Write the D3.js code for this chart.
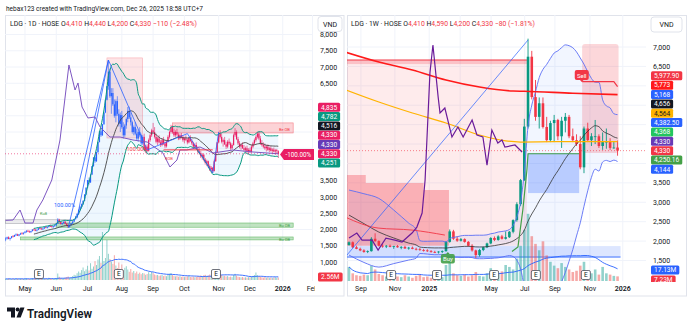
<!DOCTYPE html>
<html><head><meta charset="utf-8">
<script src="https://cdn.jsdelivr.net/npm/d3@7"></script>
<style>
html,body{margin:0;padding:0;background:#fff;}
svg{display:block;font-family:Roboto,"Noto Sans",sans-serif;}
</style></head><body>
<svg id="c" width="690" height="328"></svg>
<script>
// ---------------- DATA ----------------
const headerText = "hebax123 created with TradingView.com, Dec 26, 2025 18:58 UTC+7";

// Left pane: LDG daily bars [open, high, low, close]
const leftOHLC = [
[1700,1760,1640,1720],[1720,1780,1690,1760],[1760,1790,1700,1710],[1710,1750,1660,1740],[1740,1800,1720,1790],[1790,1830,1760,1780],[1780,1840,1770,1830],[1830,1880,1800,1850],[1850,1870,1800,1810],[1810,1860,1790,1850],[1850,1900,1830,1880],[1880,1920,1850,1870],[1870,1910,1840,1900],
[1900,1950,1880,1930],[1930,1980,1900,1960],[1960,1990,1920,1940],[1940,1970,1900,1920],[1920,1960,1890,1950],[1950,2010,1940,2000],[2000,2040,1970,1990],[1990,2020,1950,1970],[1970,2000,1940,1990],[1990,2050,1980,2040],[2040,2080,2010,2030],[2030,2060,1990,2010],[2010,2040,1980,2030],[2030,2080,2020,2070],[2070,2100,2040,2060],[2060,2090,2030,2080],[2080,2120,2060,2110],[2110,2150,2080,2100],[2100,2130,2060,2080],[2080,2110,2050,2100],[2100,2140,2080,2130],
[2130,2200,2110,2180],[2180,2350,2170,2300],[2300,2330,2200,2230],[2230,2260,2150,2170],[2170,2210,2130,2200],[2200,2250,2180,2240],[2240,2260,2160,2180],[2180,2200,2100,2120],[2120,2160,2050,2080],[2080,2140,2060,2130],[2130,2200,2120,2190],[2190,2250,2170,2240],
[2240,2330,2230,2320],[2320,2420,2300,2400],[2400,2500,2380,2480],[2480,2620,2450,2600],[2600,2720,2560,2700],[2700,2800,2650,2780],[2780,2900,2760,2880],[2880,3080,2870,3080],[3080,3290,3060,3290],
[3290,3520,3270,3520],[3520,3600,3380,3450],[3450,3690,3430,3690],[3690,3950,3680,3950],[3950,4220,3930,4220],[4220,4300,4050,4100],[4100,4380,4080,4380],[4380,4690,4360,4690],[4690,5020,4680,5020],[5020,5100,4850,4900],[4900,5240,4880,5240],[5240,5600,5220,5600],[5600,5990,5580,5990],[5990,6410,5970,6410],[6410,7215,6300,6860],[6860,6950,6050,6100],[6100,6350,5560,6200],[6200,6350,5800,5850],[5850,6000,5440,5500],[5500,6000,5300,5950],[5950,6100,5500,5560],[5560,5700,5170,5250],[5250,5600,5000,5520],
[5520,5650,5100,5150],[5150,5300,4800,4900],[4900,5250,4850,5200],[5200,5450,5100,5400],[5400,5770,5300,5650],[5650,5780,5400,5450],[5450,5600,5200,5300],[5300,5350,4950,5000],[5000,5200,4900,5150],[5150,5300,4900,4950],[4950,5100,4750,4800],[4800,5050,4700,5000],[5000,5150,4850,4900],[4900,4950,4600,4650],[4650,4900,4600,4850],[4850,4950,4400,4450],[4450,4600,4350,4550],[4550,4620,4380,4420],[4420,4800,4400,4750],[4750,4950,4700,4900],[4900,5100,4850,5050],
[5050,5280,4950,5000],[5000,5150,4800,4850],[4850,4950,4650,4700],[4700,4850,4600,4800],[4800,4900,4650,4680],[4680,4750,4540,4600],[4600,4800,4560,4750],[4750,4850,4600,4650],[4650,4700,4500,4560],[4560,4750,4520,4700],[4700,4900,4680,4850],[4850,5050,4800,5000],[5000,5220,4950,5150],[5150,5200,4950,5000],[5000,5100,4850,4900],[4900,5050,4850,5000],[5000,5100,4880,4920],[4920,4980,4750,4800],[4800,4950,4760,4900],[4900,4970,4800,4850],[4850,4900,4700,4750],
[4750,4850,4650,4800],[4800,4900,4720,4760],[4760,4800,4620,4680],[4680,4850,4650,4820],[4820,4900,4700,4720],[4720,4780,4600,4650],[4650,4700,4500,4550],[4550,4650,4480,4600],[4600,4680,4450,4480],[4480,4560,4350,4400],[4400,4500,4300,4350],[4350,4420,4200,4250],[4250,4350,4150,4300],[4300,4320,4100,4150],[4150,4200,4000,4050],[4050,4150,3950,4100],[4100,4120,3900,3950],[3950,4000,3800,3850],[3850,3950,3750,3900],[3900,3920,3740,3800],[3800,4150,3780,4100],[4100,4400,4080,4380],[4380,4690,4350,4680],
[4680,5010,4650,4950],[4950,5060,4800,4850],[4850,4950,4650,4700],[4700,4800,4550,4750],[4750,4850,4600,4620],[4620,4700,4480,4550],[4550,4750,4500,4700],[4700,4800,4600,4650],[4650,4700,4450,4500],[4500,4650,4460,4600],[4600,4950,4580,4900],[4900,5120,4850,5000],[5000,5050,4750,4780],[4780,4850,4600,4650],[4650,4720,4500,4550],[4550,4650,4450,4600],[4600,4680,4480,4500],[4500,4600,4400,4450],[4450,4550,4380,4500],[4500,4580,4350,4400],[4400,4500,4330,4450],
[4450,4520,4360,4380],[4380,4600,4360,4550],[4550,4700,4500,4650],[4650,4800,4600,4750],[4750,4900,4700,4850],[4850,5000,4800,4950],[4950,5020,4750,4800],[4800,4880,4600,4650],[4650,4750,4550,4600],[4600,4680,4500,4550],[4550,4650,4450,4500],[4500,4600,4400,4550],[4550,4620,4420,4450],[4450,4550,4380,4500],[4500,4560,4400,4420],[4420,4500,4350,4460],[4460,4520,4380,4400],[4400,4480,4300,4440],[4440,4480,4330,4440],[4410,4440,4200,4330]
];
// Left pane daily volume (millions)
const leftVolume = [
1.2,0.9,1.5,1.1,0.8,1.3,1.0,1.6,1.2,0.9,1.4,1.1,1.0,
1.3,1.8,1.0,0.9,1.2,2.0,1.4,1.1,0.8,1.6,1.9,1.2,1.0,1.5,1.3,1.1,2.2,1.7,1.2,1.0,1.4,
1.8,6.5,3.2,2.0,1.5,1.8,2.4,2.9,3.5,2.2,2.8,3.9,5.2,4.6,6.8,8.5,7.2,9.9,12.5,8.8,10.6,
14.2,9.5,16.8,11.2,13.5,18.9,15.0,20.5,24.0,17.2,48,19.0,22.0,40,26.2,21.0,18.5,16.2,24.8,14.5,12.0,17.5,11.0,
15.5,9.8,12.2,13.8,10.5,8.2,11.0,7.5,9.0,6.8,8.5,6.2,7.4,5.8,7.0,
6.5,5.2,6.0,7.8,6.1,8.2,6.9,5.5,4.8,5.0,4.2,4.6,5.1,3.9,4.4,3.8,5.6,6.2,7.0,4.9,
4.1,3.6,4.0,3.3,3.8,3.1,3.5,2.9,3.2,3.6,4.2,3.0,2.8,3.4,2.7,3.1,3.9,3.3,4.5,3.6,
4.8,5.2,3.9,4.6,5.5,4.1,5.8,7.2,6.5,8.0,9.5,6.8,5.0,3.8,4.2,3.5,3.9,2.9,3.4,2.8,
4.9,6.2,4.4,3.2,2.9,2.6,3.0,2.4,2.7,2.3,2.8,2.5,3.4,4.1,5.0,7.5,4.8,3.6,3.1,2.7,
2.4,2.9,2.2,2.6,2.1,2.4,2.0,2.3,2.8,2.2,2.56
];
const leftMonthIdx = [13,34,55,78,99,120,143,164,186,206];
const leftMonthLabels = ["May","Jun","Jul","Aug","Sep","Oct","Nov","Dec","2026","Feb"];
const leftPriceTicks = [1000,1500,2000,2500,3000,3500,4000,4500,5000,5500,6000,6500,7000,7500,8000];
// comparison line (purple) [bar index, price]
const leftPurple = [[0,2280],[5,2292],[9.7,2600],[13,2200],[18.4,2200],[21,2600],[25,2908],[31,3523],[36.5,4754],[42.5,7062],[46.6,6292],[48.6,6508],[51.3,5769],[55.3,5431],[60,5462],[63.4,5154],[70,4846],[76.8,4846],[85.5,4754],[95,4692],[105.6,4354],[110.3,3923],[115,4138],[117,4446],[121.7,4446],[130.5,4538],[139.2,4354],[152.6,4446],[166,4385],[183,4330]];
const leftZigzag = [[48,2350],[69,7215],[95,4450],[122,4950],[139,3740],[143,5000]];
const leftRay = [[42,2050],[69,7215]];
const leftEarnings = [22.4,76,141.2];
const leftAxisValues = [4835,4782,4516,4330,4330,4330,4251];
const leftAxisColors = ["#e91e63","#089981","#131722","#e91e63","#673ab7","#e91e63","#089981"];
const leftMainLabel = 5;

// Right pane: LDG weekly bars [open, high, low, close]
const rightOHLC = [
[1900,1990,1880,1970],[1970,1990,1820,1840],[1840,1880,1790,1800],[1800,1830,1740,1760],[1760,1790,1700,1720],[1720,1760,1690,1740],[1740,2100,1730,2060],[2060,2200,1980,2000],[2000,2020,1860,1880],[1880,1920,1830,1860],
[1860,1900,1820,1880],[1880,1910,1840,1850],[1850,1880,1800,1870],[1870,1900,1830,1840],[1840,1870,1790,1850],[1850,1880,1800,1810],[1810,1850,1780,1830],[1830,1860,1790,1800],[1800,1830,1760,1790],[1790,1820,1750,1770],
[1770,1800,1730,1760],[1760,1790,1720,1740],[1740,1770,1700,1720],[1720,1750,1690,1710],[1710,1740,1680,1730],[1730,1760,1690,1740],[1740,2000,1730,1980],[1980,2300,1960,2250],[2250,2290,2030,2060],[2060,2120,1980,2010],
[2010,2080,1990,2050],[2050,2070,1960,1980],[1980,2000,1860,1880],[1880,1920,1730,1760],[1760,1780,1560,1640],[1640,1800,1600,1770],[1770,1860,1740,1840],[1840,1960,1820,1940],[1940,2100,1920,2080],[2080,2120,2000,2030],
[2030,2150,2010,2120],[2120,2160,2040,2060],[2060,2250,2040,2100],[2100,2260,2080,2240],[2240,2560,2200,2540],[2540,3000,2500,2950],[2950,3600,2900,3570],[3570,5150,3550,4950],[4950,7215,4900,6750],[6750,6900,5650,5710],
[5710,6150,5100,5200],[5200,5700,4900,5550],[5550,5700,4900,4940],[4940,5200,4550,4600],[4600,5100,4550,5040],[5040,5250,4550,5120],[5120,5150,4600,4700],[4700,5200,4400,5100],[5100,5300,4800,5200],[5200,5250,4650,4700],
[4700,4900,4550,4600],[4600,4750,4450,4500],[4500,4700,3850,3900],[3900,4950,3750,4900],[4900,5050,4550,4600],[4600,4780,4450,4700],[4700,5120,4500,4700],[4700,4750,4400,4450],[4450,4800,4350,4550],[4550,4900,4380,4560],
[4560,4650,4350,4400],[4400,4560,4380,4410],[4410,4590,4200,4330]
];
const rightVolume = [22,12,9,8,10,9,24,18,11,9,7,6,8,7,6,9,7,5,8,10,6,7,5,9,11,6,25,30,12,9,8,10,7,9,14,8,7,12,20,9,12,15,25,22,18,35,55,80,105,70,58,48,62,40,30,24,20,28,22,18,14,16,24,30,16,12,18,10,22,12,10,8,7.23];
const rightMonthIdx = [3.2,12.3,21.5,38.1,47.1,55.2,64.6,73.4];
const rightMonthLabels = ["Sep","Nov","2025","May","Jul","Sep","Nov","2026"];
const rightGridOnlyIdx = [29.8];
const rightPriceTicks = [1500,2000,2500,3000,3500,4000,4500,5000,5500,6000,6500,7000];
// band values before the 20-week window is available
const rightBandEarlyIdx = [0,4,8,12,16,18];
const rightBandEarlyUpper = [3315,3220,3100,2800,2464,2300];
const rightBandEarlyBasis = [2670,2450,2232,2080,1949,1900];
const rightBandEarlyLower = [1640,1450,1330,1420,1511,1560];
const rightOrange = [[-1,5900],[8,5583],[17,5300],[26,5041],[35,4732],[42,4580],[46,4552],[55,4560],[65,4562],[72,4564]];
const rightRedMA = [[-1,6870],[8,6613],[17,6407],[26,6150],[35,5969],[44,5866],[47,5860],[60,5810],[72,5773]];
const rightThinRed = [[-1,2619],[7.8,2336],[16.9,2284],[25.7,2155]];
const rightPurple = [[0,2078],[2.1,2207],[3.5,2026],[6.2,2026],[7.8,1769],[9.9,2078],[12.3,2026],[14.2,1975],[16.9,2207],[18.2,2361],[19.6,2722],[20.4,3573],[21.7,6330],[22.5,7052],[23.9,5712],[24.4,5300],[25.7,5428],[27.6,4681],[29.2,4938],[30.6,4681],[33,5119],[34.3,4732],[35.9,4681],[37,3959],[38.3,4861],[39.9,4526],[41,4603],[41.8,4423],[44.5,4475],[46.4,4294]];
const rightDiagonal = [[-1,1589],[48,7180]];
const rightGreenStop = [[43.7,1730],[45.3,1850],[46.6,2800],[47.7,3830],[48,4250],[61.7,4250]];
const rightRedAreaIdx = [-1,4.5,4.5,20,20,26.8];
const rightRedAreaTop = [3700,3700,3495,3495,3315,3315];
const rightSellLine = [[62.5,6106],[71,6106],[72,5978]];
const rightEarnings = [11.3,23.6,38.9,50.1,63.5];
const rightAxisValues = [5977.90,5773,5168,4656,4564,4382.50,4368,4330,4330,4250.16,4144];
const rightAxisColors = ["#f23645","#ff1a1a","#2962ff","#131722","#ffb300","#2962ff","#22c55e","#673ab7","#f23645","#43a047","#2962ff"];
const rightMainLabel = 8;

// ---------------- DRAW ----------------
const RED="#f23645", GREEN="#089981", BLUE="#2962ff", PINK="#e91e63", TXT="#131722", GRID="#f0f3fa";
const svg = d3.select("#c");
const defs = svg.append("defs");
function clip(id,x,y,w,h){defs.append("clipPath").attr("id",id).append("rect").attr("x",x).attr("y",y).attr("width",w).attr("height",h);}
clip("clipL",5,15,308,266); clip("clipR",347,15,299,266);
clip("clipLT",5,281,310,15); clip("clipRAx",646,15,41,267);

svg.append("rect").attr("width",690).attr("height",328).attr("fill","#fff");
svg.append("text").attr("x",6).attr("y",10.5).attr("font-size",7).attr("fill",TXT)
  .attr("textLength",197).attr("lengthAdjust","spacingAndGlyphs").text(headerText);

const L = {x:d3.scaleLinear().domain([0,183]).range([5.6,5.6+183*1.49]),
           y:d3.scaleLinear().domain([1000,7500]).range([262,50.75]),
           v:d3.scaleLinear().domain([0,60]).range([280,220]), x0:5,x1:313};
const R = {x:d3.scaleLinear().domain([0,72]).range([349,349+72*3.73]),
           y:d3.scaleLinear().domain([1500,7000]).range([260.5,47]),
           v:d3.scaleLinear().domain([0,110]).range([281,210.6]), x0:347,x1:646};

svg.append("rect").attr("x",5.5).attr("y",15.5).attr("width",338.5).attr("height",280.5).attr("fill","none").attr("stroke","#e0e3eb");
svg.append("rect").attr("x",347.5).attr("y",15.5).attr("width",339).attr("height",280.5).attr("fill","none").attr("stroke","#e0e3eb");

function grid(P, ticks, monthIdx, extraIdx, clipId){
  const g = svg.append("g").attr("clip-path",`url(#${clipId})`);
  g.selectAll(null).data(ticks).enter().append("line")
    .attr("x1",P.x0).attr("x2",P.x1).attr("y1",d=>P.y(d)).attr("y2",d=>P.y(d)).attr("stroke",GRID);
  g.selectAll(null).data(monthIdx.concat(extraIdx)).enter().append("line")
    .attr("x1",d=>P.x(d)).attr("x2",d=>P.x(d)).attr("y1",15).attr("y2",281).attr("stroke",GRID);
}
grid(L,leftPriceTicks,leftMonthIdx,[],"clipL");
grid(R,rightPriceTicks,rightMonthIdx,rightGridOnlyIdx,"clipR");

function bollinger(closes,n,k){
  const out=[];
  for(let i=n-1;i<closes.length;i++){
    const w=closes.slice(i-n+1,i+1), m=d3.mean(w), sd=Math.sqrt(d3.mean(w,d=>(d-m)*(d-m)));
    out.push({i,m,u:m+k*sd,l:m-k*sd});
  }
  return out;
}
function sma(vals,n){ return vals.map((v,i)=>({i,m:d3.mean(vals.slice(Math.max(0,i-n+1),i+1))})); }

const gL = svg.append("g").attr("clip-path","url(#clipL)");
const gR = svg.append("g").attr("clip-path","url(#clipR)");

function zone(g,P,i0,i1,p0,p1,fill,stroke){
  g.append("rect").attr("x",P.x(i0)).attr("y",P.y(p0)).attr("width",P.x(i1)-P.x(i0)).attr("height",P.y(p1)-P.y(p0))
   .attr("fill",fill).attr("stroke",stroke||"none").attr("stroke-width",0.6);
}
// ---------- LEFT ----------
const lClose = leftOHLC.map(d=>d[3]);
const lBB = bollinger(lClose,20,2);
gL.append("path").datum(lBB).attr("d",d3.area().x(d=>L.x(d.i)).y0(d=>L.y(d.l)).y1(d=>L.y(d.u)).curve(d3.curveMonotoneX))
  .attr("fill","rgba(33,150,243,0.08)");
zone(gL,L,68,92,7280,4815,"rgba(242,54,69,0.13)","rgba(242,54,69,0.35)");
zone(gL,L,112,193,5280,4970,"rgba(242,54,69,0.22)","rgba(242,54,69,0.6)");
zone(gL,L,34,193,2200,2070,"rgba(76,175,80,0.35)","rgba(76,175,80,0.8)");
zone(gL,L,10,193,1770,1680,"rgba(76,175,80,0.35)","rgba(76,175,80,0.8)");
zone(gL,L,0,45,2300,2180,"rgba(120,123,134,0.15)","rgba(120,123,134,0.6)");

function volume(g,P,ohlc,vol,w){
  g.selectAll(null).data(vol).enter().append("rect")
   .attr("x",(d,i)=>P.x(i)-w/2).attr("width",w)
   .attr("y",d=>P.v(d)).attr("height",d=>P.v(0)-P.v(d))
   .attr("fill",(d,i)=>ohlc[i][3]>=ohlc[i][0]?"rgba(38,166,154,0.5)":"rgba(239,83,80,0.5)");
  const ma = sma(vol,20);
  g.append("path").datum(ma).attr("d",d3.line().x(d=>P.x(d.i)).y(d=>P.v(d.m)).curve(d3.curveMonotoneX))
   .attr("fill","none").attr("stroke",BLUE).attr("stroke-width",0.9);
}
volume(gL,L,leftOHLC,leftVolume,1.0);

function candles(g,P,ohlc,bw,color){
  const c = g.selectAll(null).data(ohlc).enter().append("g");
  c.append("line").attr("x1",(d,i)=>P.x(i)).attr("x2",(d,i)=>P.x(i)).attr("y1",d=>P.y(d[1])).attr("y2",d=>P.y(d[2]))
   .attr("stroke",(d,i)=>color(d,i)).attr("stroke-width",bw>2?0.9:0.6);
  c.append("rect").attr("x",(d,i)=>P.x(i)-bw/2).attr("width",bw)
   .attr("y",d=>P.y(Math.max(d[0],d[3]))).attr("height",d=>Math.max(0.8,Math.abs(P.y(d[0])-P.y(d[3]))))
   .attr("fill",(d,i)=>color(d,i));
}
candles(gL,L,leftOHLC,1.2,(d,i)=> i<46 ? (d[3]>=d[0]?BLUE:PINK) : (i<93 ? BLUE : PINK));

const lineL = (pts)=>d3.line().x(d=>L.x(d[0])).y(d=>L.y(d[1]))(pts);
gL.append("path").datum(lBB).attr("d",d3.line().x(d=>L.x(d.i)).y(d=>L.y(d.u)).curve(d3.curveMonotoneX)).attr("fill","none").attr("stroke","#089981").attr("stroke-width",1);
gL.append("path").datum(lBB).attr("d",d3.line().x(d=>L.x(d.i)).y(d=>L.y(d.l)).curve(d3.curveMonotoneX)).attr("fill","none").attr("stroke","#089981").attr("stroke-width",1);
gL.append("path").datum(lBB).attr("d",d3.line().x(d=>L.x(d.i)).y(d=>L.y(d.m)).curve(d3.curveMonotoneX)).attr("fill","none").attr("stroke","#444").attr("stroke-width",0.9);
gL.append("path").attr("d",lineL(leftRay)).attr("stroke",BLUE).attr("stroke-width",0.8).attr("fill","none");
gL.append("path").attr("d",lineL(leftZigzag)).attr("stroke",BLUE).attr("stroke-width",0.8).attr("fill","none");
gL.append("path").attr("d",lineL(leftPurple)).attr("stroke","#7e57c2").attr("stroke-width",1).attr("fill","none");
gL.append("line").attr("x1",L.x(106)).attr("x2",L.x(139)).attr("y1",L.y(4450)).attr("y2",L.y(4450)).attr("stroke",RED).attr("stroke-width",1);
gL.append("line").attr("x1",5).attr("x2",313).attr("y1",L.y(4330)).attr("y2",L.y(4330)).attr("stroke",PINK).attr("stroke-opacity",0.6).attr("stroke-dasharray","1,2");
function tiny(g,x,y,t,c,s){g.append("text").attr("x",x).attr("y",y).attr("font-size",s).attr("fill",c).text(t);}
tiny(gL,125,150.5,"-100.00%",RED,5.5);
tiny(gL,54,207,"100.00%",BLUE,5.5);
tiny(gL,279,130.5,"Be OB",RED,4);
tiny(gL,279,227,"Bu OB","#43a047",4);
tiny(gL,279,240.5,"Bu OB","#43a047",4);
tiny(gL,165,159.5,"ROB",RED,4);
tiny(gL,40,215,"Ku8","#43a047",4);

function earnings(P,idxs,yc){
  idxs.forEach(i=>{
    const x=P.x(i);
    svg.append("rect").attr("x",x-4.5).attr("y",yc-4.5).attr("width",9).attr("height",9).attr("rx",1.5).attr("fill","#fff").attr("stroke","#4a4e5a").attr("stroke-width",0.8);
    svg.append("text").attr("x",x).attr("y",yc+2.3).attr("text-anchor","middle").attr("font-size",6.5).attr("fill",TXT).text("E");
  });
}
earnings(L,leftEarnings,274);

// ---------- RIGHT ----------
const rClose = rightOHLC.map(d=>d[3]);
const rBBc = bollinger(rClose,20,2);
const rBB = rightBandEarlyIdx.map((i,k)=>({i,u:rightBandEarlyUpper[k],m:rightBandEarlyBasis[k],l:rightBandEarlyLower[k]})).concat(rBBc);
zone(gR,R,-1,47.7,6560,1880,"rgba(242,54,69,0.10)");
zone(gR,R,-1,47.7,6665,6560,"rgba(242,54,69,0.30)");
gR.append("line").attr("x1",R.x(-1)).attr("x2",R.x(47.7)).attr("y1",R.y(6665)).attr("y2",R.y(6665)).attr("stroke",RED).attr("stroke-width",1);
gR.append("path").datum(rightRedAreaIdx.map((d,k)=>[d,rightRedAreaTop[k]]))
  .attr("d",d3.area().x(d=>R.x(d[0])).y0(R.y(1880)).y1(d=>R.y(d[1])).curve(d3.curveMonotoneX))
  .attr("fill","rgba(242,54,69,0.32)");
gR.append("path").datum(rBB).attr("d",d3.area().x(d=>R.x(d.i)).y0(d=>R.y(d.l)).y1(d=>R.y(d.u)).curve(d3.curveMonotoneX))
  .attr("fill","rgba(41,98,255,0.06)");
zone(gR,R,-1,72.8,1872,1589,"rgba(41,98,255,0.16)");
gR.append("line").attr("x1",R.x(-1)).attr("x2",R.x(72.8)).attr("y1",R.y(1589)).attr("y2",R.y(1589)).attr("stroke",BLUE).attr("stroke-width",0.9);
zone(gR,R,48,61.7,4268,3237,"rgba(41,98,255,0.28)");
gR.append("rect").attr("x",R.x(62.5)).attr("y",R.y(7077)).attr("width",R.x(72)-R.x(62.5)+1).attr("height",R.y(4268)-R.y(7077)).attr("rx",3).attr("fill","rgba(242,54,69,0.2)");

volume(gR,R,rightOHLC,rightVolume,2.6);
candles(gR,R,rightOHLC,2.6,(d,i)=> d[3]>=d[0]?GREEN:RED);

const lineR = (pts)=>d3.line().x(d=>R.x(d[0])).y(d=>R.y(d[1]))(pts);
const smooth = (pts)=>d3.line().x(d=>R.x(d[0])).y(d=>R.y(d[1])).curve(d3.curveMonotoneX)(pts);
gR.append("path").datum(rBB).attr("d",d3.line().x(d=>R.x(d.i)).y(d=>R.y(d.u)).curve(d3.curveMonotoneX)).attr("fill","none").attr("stroke","#5b6ef5").attr("stroke-width",0.9);
gR.append("path").datum(rBB).attr("d",d3.line().x(d=>R.x(d.i)).y(d=>R.y(d.l)).curve(d3.curveMonotoneX)).attr("fill","none").attr("stroke","#5b6ef5").attr("stroke-width",0.9);
gR.append("path").datum(rBB).attr("d",d3.line().x(d=>R.x(d.i)).y(d=>R.y(d.m)).curve(d3.curveMonotoneX)).attr("fill","none").attr("stroke","#333").attr("stroke-width",0.8);
gR.append("path").attr("d",smooth(rightThinRed)).attr("stroke",RED).attr("stroke-width",0.9).attr("fill","none");
gR.append("path").attr("d",smooth(rightOrange)).attr("stroke","#ffb300").attr("stroke-width",1.2).attr("fill","none");
gR.append("path").attr("d",smooth(rightRedMA)).attr("stroke","#ff1a1a").attr("stroke-width",1.6).attr("fill","none");
gR.append("path").attr("d",lineR(rightDiagonal)).attr("stroke",BLUE).attr("stroke-width",0.7).attr("fill","none");
gR.append("path").attr("d",lineR(rightGreenStop)).attr("stroke","#43a047").attr("stroke-width",1.2).attr("fill","none");
gR.append("path").attr("d",lineR(rightPurple)).attr("stroke","#6a1b9a").attr("stroke-width",1.2).attr("fill","none");
gR.append("path").attr("d",lineR(rightSellLine)).attr("stroke",RED).attr("stroke-width",1.2).attr("fill","none");
gR.append("line").attr("x1",347).attr("x2",646).attr("y1",R.y(4330)).attr("y2",R.y(4330)).attr("stroke",RED).attr("stroke-opacity",0.6).attr("stroke-dasharray","1,2");
(function(){
  const sx=R.x(62.4), sy=75.5;
  gR.append("rect").attr("x",sx-7).attr("y",sy-5.5).attr("width",14).attr("height",10).attr("rx",2).attr("fill",RED);
  gR.append("path").attr("d",`M${sx-1.8},${sy+4.5}L${sx},${sy+6.5}L${sx+1.8},${sy+4.5}Z`).attr("fill",RED);
  gR.append("text").attr("x",sx).attr("y",sy+2).attr("text-anchor","middle").attr("font-size",6).attr("fill","#fff").text("Sell");
  const bx=R.x(26.5), by=258.5;
  gR.append("path").attr("d",`M${bx-1.8},${by-4.5}L${bx},${by-6.5}L${bx+1.8},${by-4.5}Z`).attr("fill","#43a047");
  gR.append("rect").attr("x",bx-7).attr("y",by-4.5).attr("width",14).attr("height",9.5).attr("rx",2).attr("fill","#43a047").attr("fill-opacity",0.9);
  gR.append("text").attr("x",bx).attr("y",by+2.3).attr("text-anchor","middle").attr("font-size",6).attr("fill","#fff").text("Buy");
})();
earnings(R,rightEarnings,275);

// ---------- AXES ----------
function stackPos(P,vals,main,h){
  const pos = vals.map(v=>P.y(v));
  for(let k=main-1;k>=0;k--) pos[k]=Math.min(pos[k],pos[k+1]-h);
  for(let k=main+1;k<vals.length;k++) pos[k]=Math.max(pos[k],pos[k-1]+h);
  return pos;
}
const leftPos = stackPos(L,leftAxisValues,leftMainLabel,9.3);
const rightPos = stackPos(R,rightAxisValues,rightMainLabel,9.35);

function priceTicks(P,ticks,tx,ymin,busy){
  const free = t => busy.every(b=>Math.abs(P.y(t)-b)>8.5);
  svg.selectAll(null).data(ticks.filter(t=>P.y(t)>ymin && P.y(t)<281 && free(t))).enter().append("text")
   .attr("x",tx).attr("y",d=>P.y(d)+2.5).attr("font-size",7).attr("fill",TXT).text(d=>d3.format(",")(d));
}
priceTicks(L,leftPriceTicks,320,20,leftPos.concat([L.y(4330)+0.8]));
priceTicks(R,rightPriceTicks,653,34,rightPos);

function monthLabels(P,idx,labels,clipId){
  const g = svg.append("g").attr("clip-path",clipId?`url(#${clipId})`:null);
  g.selectAll(null).data(idx).enter().append("text").attr("x",d=>P.x(d)).attr("y",290.5)
   .attr("text-anchor","middle").attr("font-size",7).attr("fill",TXT)
   .attr("font-weight",(d,i)=>/^\d{4}$/.test(labels[i])?600:400).text((d,i)=>labels[i]);
}
monthLabels(L,leftMonthIdx,leftMonthLabels,"clipLT");
monthLabels(R,rightMonthIdx,rightMonthLabels,null);

const fmt = v => Number.isInteger(v) ? d3.format(",")(v) : d3.format(",.2f")(v);
function axisLabel(g,x,yc,text,color,fg){
  const gg = g.append("g");
  const r = gg.append("rect").attr("x",x).attr("y",yc-4.5).attr("height",9).attr("rx",1.5).attr("fill",color);
  const t = gg.append("text").attr("x",x+3).attr("y",yc+2.3).attr("font-size",6.6).attr("fill",fg||"#fff").text(text);
  r.attr("width",t.node().getComputedTextLength()+6);
}
const axL = svg.append("g");
leftAxisValues.forEach((v,k)=>axisLabel(axL,318,leftPos[k],fmt(v),leftAxisColors[k],"#fff"));
(function(){
  const yc=L.y(4330)+0.8;
  axL.append("path").attr("d",`M280,${yc}L284,${yc-5.5}H314V${yc+5.5}H284Z`).attr("fill",PINK);
  axL.append("text").attr("x",285.5).attr("y",yc+2.3).attr("font-size",6.3).attr("fill","#fff").text("-100.00%");
})();
axisLabel(axL,318,277,"2.56M",RED);
const axR = svg.append("g").attr("clip-path","url(#clipRAx)");
rightAxisValues.forEach((v,k)=>axisLabel(axR,651,rightPos[k],fmt(v),rightAxisColors[k],rightAxisColors[k]==="#ffb300"?TXT:"#fff"));
axisLabel(axR,651,270,"17.13M",BLUE);
axisLabel(axR,651,280,"7.23M",RED);

function vnd(x,y,w){
  svg.append("rect").attr("x",x).attr("y",y).attr("width",w).attr("height",15).attr("rx",3).attr("fill","#fff").attr("stroke","#e0e3eb");
  svg.append("text").attr("x",x+w/2).attr("y",y+10).attr("text-anchor","middle").attr("font-size",7).attr("fill",TXT).text("VND");
}
vnd(318,16.5,24); vnd(651,17,31);

function legend(x,parts,len){
  const t = svg.append("text").attr("x",x).attr("y",25.5).attr("font-size",7).attr("textLength",len).attr("lengthAdjust","spacingAndGlyphs");
  parts.forEach(p=>t.append("tspan").attr("fill",p[1]).text(p[0]));
}
legend(10,[["LDG · 1D · HOSE  ",TXT],["O",TXT],["4,410",RED],["  H",TXT],["4,440",RED],["  L",TXT],["4,200",RED],["  C",TXT],["4,330",RED],["  −110 (−2.48%)",RED]],187);
legend(351,[["LDG · 1W · HOSE  ",TXT],["O",TXT],["4,410",RED],["  H",TXT],["4,590",RED],["  L",TXT],["4,200",RED],["  C",TXT],["4,330",RED],["  −80 (−1.81%)",RED]],184);

svg.append("path").attr("d","M7,307.5H15V317.5H11V311.5H7Z").attr("fill",TXT);
svg.append("circle").attr("cx",17.6).attr("cy",309.6).attr("r",2).attr("fill",TXT);
svg.append("path").attr("d","M16.5,317.5L20.3,307.5H24.5L20.7,317.5Z").attr("fill",TXT);
svg.append("text").attr("x",27).attr("y",317.5).attr("font-size",13.5).attr("font-weight",600).attr("fill",TXT)
  .attr("textLength",65).attr("lengthAdjust","spacingAndGlyphs").text("TradingView");
</script></body></html>
